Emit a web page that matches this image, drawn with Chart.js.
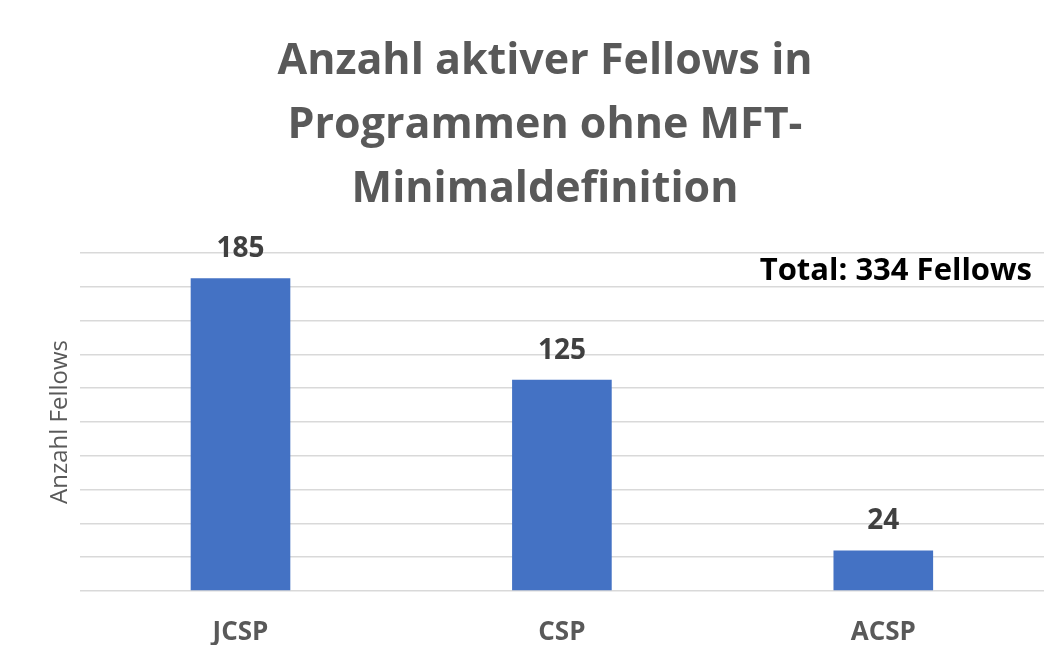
<!DOCTYPE html>
<html>
<head>
<meta charset="utf-8">
<script src="https://cdn.jsdelivr.net/npm/chart.js@4"></script>
<style>
  body { margin: 0; background: #fff; }
  canvas { display: block; }
</style>
</head>
<body>
<canvas id="fellowsChart" width="1051" height="648"></canvas>
<script>
// data
const programme = ['JCSP', 'CSP', 'ACSP'];
const activeFellows = [185, 125, 24];
const titleLines = ['Anzahl aktiver Fellows in', 'Programmen ohne MFT-', 'Minimaldefinition'];
const totalLabel = 'Total: 334 Fellows';

// labels above bars + the total note
const labelPlugin = {
    id: 'labelPlugin',
    afterDatasetsDraw(chart) {
        const c = chart.ctx;
        const meta = chart.getDatasetMeta(0);
        c.save();
        c.font = 'bold 28px "Open Sans"';
        c.fillStyle = '#404040';
        c.textAlign = 'center';
        c.textBaseline = 'middle';
        meta.data.forEach((bar, i) => {
            c.fillText(activeFellows[i], bar.x, bar.y - 29);
        });
        c.font = 'bold 31px "Open Sans"';
        c.fillStyle = '#000';
        c.textAlign = 'right';
        c.textBaseline = 'middle';
        c.fillText(totalLabel, chart.chartArea.right - 12, chart.scales.y.getPixelForValue(189));
        c.restore();
    }
};

const ctx = document.getElementById('fellowsChart').getContext('2d');
new Chart(ctx, {
    type: 'bar',
    data: {
        labels: programme,
        datasets: [{
            label: 'Anzahl Fellows',
            data: activeFellows,
            backgroundColor: '#4472c4',
            barPercentage: 0.31,
            categoryPercentage: 1
        }]
    },
    options: {
        responsive: false,
        animation: false,
        layout: { padding: { left: 46, right: 7, top: 0, bottom: 3 } },
        plugins: {
            legend: { display: false },
            tooltip: { enabled: false },
            title: {
                display: true,
                text: titleLines,
                color: '#595959',
                font: { family: 'Open Sans', size: 43, weight: 'bold', lineHeight: 64 / 43 },
                padding: { top: 30, bottom: 31 }
            }
        },
        scales: {
            x: {
                grid: { display: false },
                border: { display: false },
                afterFit(scale) { scale.height = 54; },
                ticks: {
                    color: '#595959',
                    padding: 18,
                    font: { family: 'Open Sans', size: 26, weight: 'bold' }
                }
            },
            y: {
                min: 0,
                max: 200,
                border: { display: false },
                grid: { color: '#d9d9d9', lineWidth: 1.5, drawTicks: false },
                ticks: { display: false, stepSize: 20 },
                title: {
                    display: true,
                    text: 'Anzahl Fellows',
                    color: '#595959',
                    font: { family: 'Open Sans', size: 24 },
                    padding: { top: 0, bottom: 5 }
                }
            }
        }
    },
    plugins: [labelPlugin]
});
</script>
</body>
</html>
